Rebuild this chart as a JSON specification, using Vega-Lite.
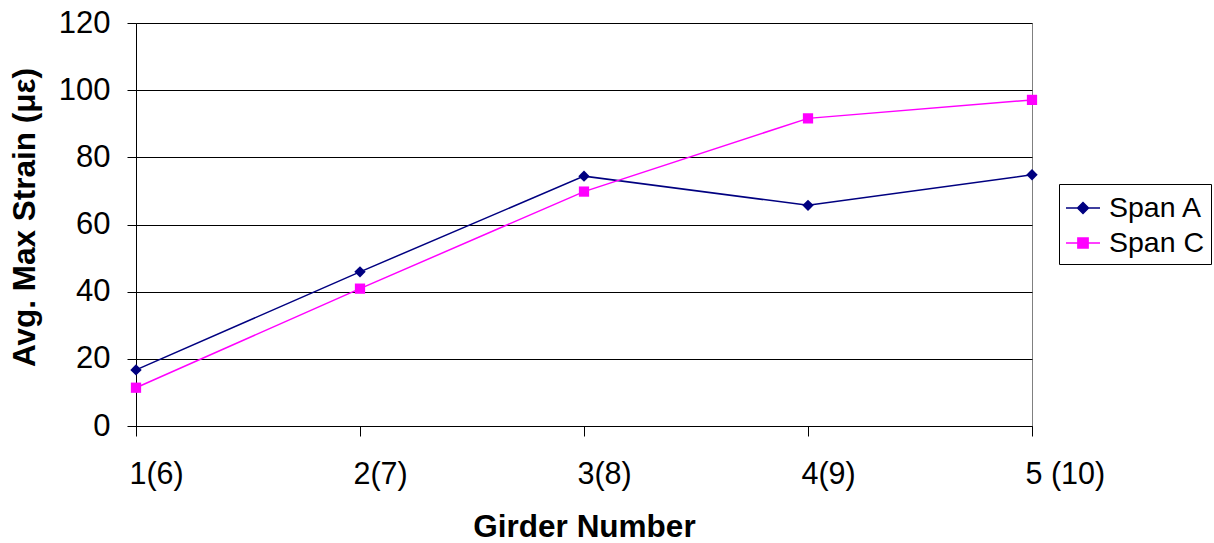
{
  "$schema": "https://vega.github.io/schema/vega-lite/v6.json",
  "width": 896,
  "height": 403,
  "autosize": {"type": "none"},
  "padding": {"left": 136, "top": 23, "right": 182, "bottom": 117},
  "background": "white",
  "config": {
    "font": "Liberation Sans",
    "view": {"stroke": "#808080", "strokeWidth": 1},
    "axis": {"labelFont": "Liberation Sans", "titleFont": "Liberation Sans", "labelColor": "black", "titleColor": "black"}
  },
  "data": {
    "values": [
      {"girder": "1(6)", "span": "Span A", "strain": 16.7},
      {"girder": "2(7)", "span": "Span A", "strain": 45.9},
      {"girder": "3(8)", "span": "Span A", "strain": 74.4},
      {"girder": "4(9)", "span": "Span A", "strain": 65.7},
      {"girder": "5 (10)", "span": "Span A", "strain": 74.8},
      {"girder": "1(6)", "span": "Span C", "strain": 11.4},
      {"girder": "2(7)", "span": "Span C", "strain": 40.9},
      {"girder": "3(8)", "span": "Span C", "strain": 69.8},
      {"girder": "4(9)", "span": "Span C", "strain": 91.6},
      {"girder": "5 (10)", "span": "Span C", "strain": 97.1}
    ]
  },
  "encoding": {
    "x": {
      "field": "girder", "type": "ordinal", "sort": null,
      "scale": {"type": "point", "padding": 0},
      "axis": {
        "title": "Girder Number", "titleFontSize": 31.5, "titleFontWeight": "bold",
        "titleY": 101, "titleBaseline": "middle",
        "labelAngle": 0, "labelFontSize": 30.5, "labelAlign": "left", "labelOffset": -7,
        "labelPadding": 23, "labelBaseline": "top",
        "tickSize": 10, "tickColor": "black", "domainColor": "black", "grid": false
      }
    },
    "y": {
      "field": "strain", "type": "quantitative",
      "scale": {"domain": [0, 120], "nice": false},
      "axis": {
        "title": "Avg. Max Strain (με)", "titleFontSize": 31.5, "titleFontWeight": "bold",
        "titleAngle": -90, "titleX": -111, "titleY": 194, "titleAlign": "center", "titleBaseline": "middle",
        "values": [0, 20, 40, 60, 80, 100, 120],
        "labelFontSize": 31, "labelPadding": 17, "tickSize": 9, "tickColor": "black",
        "domainColor": "black", "grid": true, "gridColor": "black", "gridWidth": 1
      }
    },
    "color": {
      "field": "span", "type": "nominal",
      "scale": {"domain": ["Span A", "Span C"], "range": ["#000080", "#FF00FF"]},
      "legend": {
        "title": null, "orient": "none", "legendX": 923, "legendY": 161,
        "strokeColor": "black", "fillColor": "white", "padding": 6,
        "labelFontSize": 28.5, "labelFont": "Liberation Sans", "labelColor": "black",
        "symbolSize": 1156, "labelOffset": 8, "rowPadding": 2,
        "symbolType": "M-1,0H1",
        "encode": {
          "symbols": {
            "update": {
              "shape": {"signal": "datum.value === 'Span A' ? 'M-1,0H1M0,-0.32L0.32,0L0,0.32L-0.32,0Z' : 'M-1,0H1M-0.3,-0.3H0.3V0.3H-0.3Z'"},
              "fill": {"signal": "datum.value === 'Span A' ? '#000080' : '#FF00FF'"},
              "stroke": {"signal": "datum.value === 'Span A' ? '#000080' : '#FF00FF'"},
              "strokeWidth": {"value": 1.5},
              "size": {"value": 1156},
              "opacity": {"value": 1}
            }
          }
        }
      }
    }
  },
  "layer": [
    {
      "mark": {"type": "line", "strokeWidth": 1.5}
    },
    {
      "transform": [{"filter": "datum.span === 'Span A'"}],
      "mark": {"type": "point", "filled": true, "opacity": 1, "size": 130, "shape": "diamond"}
    },
    {
      "transform": [{"filter": "datum.span === 'Span C'"}],
      "mark": {"type": "point", "filled": true, "opacity": 1, "size": 105, "shape": "square"}
    }
  ]
}
